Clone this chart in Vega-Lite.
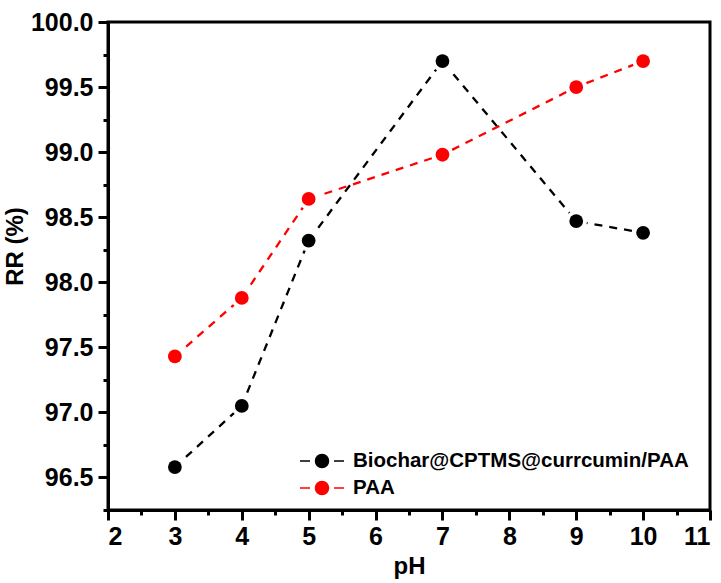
{
  "$schema": "https://vega.github.io/schema/vega-lite/v6.json",
  "width": 602,
  "height": 488,
  "autosize": "none",
  "padding": {"left": 108, "top": 22, "right": 11, "bottom": 73},
  "background": "white",
  "config": {
    "font": "Liberation Sans",
    "view": {"stroke": "black", "strokeWidth": 3},
    "axis": {
      "labelFont": "Liberation Sans", "labelFontWeight": "bold", "labelFontSize": 25, "labelColor": "black",
      "titleFont": "Liberation Sans", "titleFontWeight": "bold", "titleFontSize": 24, "titleColor": "black",
      "domainColor": "black", "domainWidth": 3, "tickColor": "black", "tickWidth": 3, "grid": false
    }
  },
  "resolve": {"axis": {"x": "independent", "y": "independent"}},
  "data": {"values": [
    {"pH": 3, "RR": 96.58, "series": "Biochar@CPTMS@currcumin/PAA"},
    {"pH": 4, "RR": 97.05, "series": "Biochar@CPTMS@currcumin/PAA"},
    {"pH": 5, "RR": 98.32, "series": "Biochar@CPTMS@currcumin/PAA"},
    {"pH": 7, "RR": 99.70, "series": "Biochar@CPTMS@currcumin/PAA"},
    {"pH": 9, "RR": 98.47, "series": "Biochar@CPTMS@currcumin/PAA"},
    {"pH": 10, "RR": 98.38, "series": "Biochar@CPTMS@currcumin/PAA"},
    {"pH": 3, "RR": 97.43, "series": "PAA"},
    {"pH": 4, "RR": 97.88, "series": "PAA"},
    {"pH": 5, "RR": 98.64, "series": "PAA"},
    {"pH": 7, "RR": 98.98, "series": "PAA"},
    {"pH": 9, "RR": 99.50, "series": "PAA"},
    {"pH": 10, "RR": 99.70, "series": "PAA"}
  ]},
  "layer": [
    {
      "mark": {"type": "line", "strokeWidth": 2.3, "strokeDash": [8, 7]},
      "encoding": {
        "x": {"field": "pH", "type": "quantitative", "scale": {"domain": [2, 11], "nice": false},
          "axis": {"orient": "bottom", "values": [2, 3, 4, 5, 6, 7, 8, 9, 10, 11], "tickSize": 10, "labelPadding": 4, "title": "pH", "titlePadding": 5}},
        "y": {"field": "RR", "type": "quantitative", "scale": {"domain": [96.25, 100], "nice": false, "zero": false},
          "axis": {"orient": "left", "values": [96.5, 97, 97.5, 98, 98.5, 99, 99.5, 100], "format": ".1f", "tickSize": 10, "labelPadding": 5, "title": "RR (%)", "titleX": -81, "titleY": 224}},
        "color": {"field": "series", "type": "nominal", "scale": {"domain": ["Biochar@CPTMS@currcumin/PAA", "PAA"], "range": ["#000000", "#ff0000"]}},
        "order": {"field": "pH", "type": "quantitative"}
      }
    },
    {
      "mark": {"type": "point", "filled": true, "shape": "circle", "size": 460, "color": "white", "opacity": 1},
      "encoding": {
        "x": {"field": "pH", "type": "quantitative",
          "axis": {"orient": "bottom", "values": [2.5, 3.5, 4.5, 5.5, 6.5, 7.5, 8.5, 9.5, 10.5], "labels": false, "tickSize": 5, "title": null, "domain": false}},
        "y": {"field": "RR", "type": "quantitative",
          "axis": {"orient": "left", "values": [96.25, 96.75, 97.25, 97.75, 98.25, 98.75, 99.25, 99.75], "labels": false, "tickSize": 5, "title": null, "domain": false}}
      }
    },
    {
      "mark": {"type": "point", "filled": true, "shape": "circle", "size": 190, "opacity": 1},
      "encoding": {
        "x": {"field": "pH", "type": "quantitative", "axis": null},
        "y": {"field": "RR", "type": "quantitative", "axis": null},
        "color": {"field": "series", "type": "nominal",
          "scale": {"domain": ["Biochar@CPTMS@currcumin/PAA", "PAA"], "range": ["#000000", "#ff0000"]},
          "legend": {
            "title": null, "orient": "none", "legendX": 203, "legendY": 428, "padding": 0,
            "symbolType": "M-2.2,0L-1.2,0M1.2,0L2.2,0M-0.65,0A0.65,0.65,0,1,1,0.65,0A0.65,0.65,0,1,1,-0.65,0Z",
            "symbolSize": 400, "rowPadding": 5, "labelOffset": 20,
            "labelFont": "Liberation Sans", "labelFontWeight": "bold", "labelFontSize": 20.5, "labelColor": "black",
            "labelLimit": 500,
            "encode": {"symbols": {"update": {
              "stroke": {"scale": "color", "field": "value"},
              "fill": {"scale": "color", "field": "value"},
              "strokeWidth": {"value": 2},
              "opacity": {"value": 1}
            }}}
          }}
      }
    }
  ]
}
